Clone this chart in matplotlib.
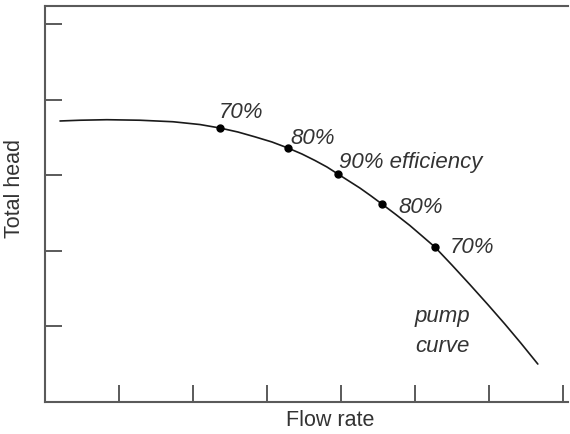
import matplotlib
matplotlib.use("Agg")
import matplotlib.pyplot as plt

# Pump curve (flow rate, total head) in arbitrary units
flow = [0.203, 0.473, 0.838, 1.284, 1.730, 2.095, 2.365, 2.608, 2.838, 3.068,
        3.284, 3.473, 3.649, 3.811, 3.959, 4.108, 4.257, 4.405, 4.554, 4.743,
        4.932, 5.095, 5.270, 5.500, 5.743, 5.986, 6.216, 6.432, 6.662]
head = [3.722, 3.732, 3.739, 3.732, 3.712, 3.675, 3.629, 3.576, 3.512, 3.444,
        3.364, 3.285, 3.199, 3.113, 3.020, 2.927, 2.834, 2.731, 2.623, 2.483,
        2.338, 2.201, 2.053, 1.815, 1.556, 1.291, 1.033, 0.781, 0.503]

# Efficiency points on the curve
eff_flow = [2.365, 3.284, 3.959, 4.554, 5.270]
eff_head = [3.629, 3.364, 3.020, 2.623, 2.053]
eff_labels = ["70%", "80%", "90% efficiency", "80%", "70%"]

x_ticks = [1, 2, 3, 4, 5, 6, 7]
y_ticks = [1, 2, 3, 4, 5]

plt.rcParams['font.family'] = ['Liberation Sans', 'DejaVu Sans']

fig = plt.figure(figsize=(5.70, 4.35), dpi=100)
ax = fig.add_axes([45/570, 1 - 403/435, 523/570, 396/435])

spine_col = '#5a5a5a'
text_col = '#333333'

ax.plot(flow, head, color='#1a1a1a', lw=1.2, solid_joinstyle='round',
        solid_capstyle='round')
ax.plot(eff_flow, eff_head, 'o', color='black', ms=5)

label_pos = [(2.35, 3.775), (3.32, 3.43), (3.97, 3.11), (4.78, 2.52), (5.47, 1.99)]
for (lx, ly), t in zip(label_pos, eff_labels):
    ax.text(lx, ly, t, fontsize=16, style='italic', color=text_col,
            ha='left', va='baseline')

ax.text(5.0, 1.07, "pump", fontsize=16, style='italic', color=text_col,
        ha='left', va='baseline')
ax.text(5.0, 0.675, "curve", fontsize=16, style='italic', color=text_col,
        ha='left', va='baseline')

ax.set_xlim(0, 7.07)
ax.set_ylim(0, 5.245)
ax.set_xticks(x_ticks)
ax.set_yticks(y_ticks)
ax.set_xticklabels([])
ax.set_yticklabels([])
ax.tick_params(direction='in', length=12, width=1.4, color=spine_col)
ax.spines['right'].set_visible(False)
for s in ['left', 'bottom', 'top']:
    ax.spines[s].set_color(spine_col)
    ax.spines[s].set_linewidth(1.5)

fig.text(330/570, 1 - 421/435, "Flow rate", fontsize=15.5, color=text_col,
         ha='center', va='center')
fig.text(15/570, 1 - 189/435, "Total head", fontsize=15.5, color=text_col,
         ha='center', va='center', rotation=90)

fig.savefig("out.png", dpi=100)
